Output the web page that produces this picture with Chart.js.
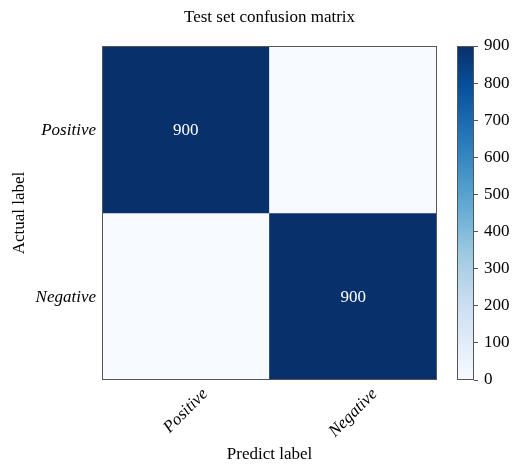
<!DOCTYPE html>
<html lang="en">
<head>
    <meta charset="UTF-8">
    <title>Test set confusion matrix</title>
    <script src="https://cdn.jsdelivr.net/npm/chart.js"></script>
    <style>
        body { margin: 0; background: #fff; }
        #wrap { position: relative; width: 515px; height: 464px; }
        #wrap canvas { position: absolute; left: 0; top: 0; }
    </style>
</head>
<body>
    <div id="wrap">
        <canvas id="matrix" width="515" height="464"></canvas>
        <canvas id="colorbar" width="515" height="464"></canvas>
    </div>

    <script>
        // data
        const categories = ['Positive', 'Negative'];
        const rowPositive = [900, 0];   // actual Positive -> predicted Positive / Negative
        const rowNegative = [0, 900];   // actual Negative -> predicted Positive / Negative
        const colorbarTicks = [0, 100, 200, 300, 400, 500, 600, 700, 800, 900];
        const vmax = 900;

        const matrix = [rowPositive, rowNegative];
        const FONT = "'Liberation Serif', 'DejaVu Serif', serif";

        // matplotlib "Blues"
        const blues = ['#f7fbff', '#deebf7', '#c6dbef', '#9ecae1', '#6baed6', '#4292c6', '#2171b5', '#08519c', '#08306b'];

        function hexToRgb(h) {
            return [parseInt(h.slice(1, 3), 16), parseInt(h.slice(3, 5), 16), parseInt(h.slice(5, 7), 16)];
        }
        function bluesAt(t) {
            t = Math.max(0, Math.min(1, t));
            const pos = t * (blues.length - 1);
            const i = Math.min(Math.floor(pos), blues.length - 2);
            const f = pos - i;
            const a = hexToRgb(blues[i]), b = hexToRgb(blues[i + 1]);
            const c = a.map((v, k) => Math.round(v + (b[k] - v) * f));
            return `rgb(${c[0]},${c[1]},${c[2]})`;
        }

        // one dataset per actual row, each cell spans [row, row + 1] on the y scale
        const datasets = matrix.map((row, r) => ({
            label: categories[r],
            data: row.map(() => [r, r + 1]),
            values: row,
            backgroundColor: row.map(v => bluesAt(v / vmax)),
            borderWidth: 0
        }));

        const matrixDecor = {
            id: 'matrixDecor',
            afterDatasetsDraw(chart) {
                const { ctx, chartArea: a, scales: { x, y } } = chart;
                ctx.save();

                // cell values
                ctx.font = `17px ${FONT}`;
                ctx.textAlign = 'center';
                ctx.textBaseline = 'middle';
                matrix.forEach((row, r) => {
                    row.forEach((v, c) => {
                        if (!v) return;
                        ctx.fillStyle = v / vmax > 0.5 ? '#ffffff' : '#000000';
                        ctx.fillText(String(v), x.getPixelForValue(c), y.getPixelForValue(r + 0.5) + 1);
                    });
                });

                // frame
                ctx.strokeStyle = '#555';
                ctx.lineWidth = 1;
                ctx.strokeRect(a.left + 0.5, a.top + 0.5, a.width - 1, a.height - 1);

                // y tick labels
                ctx.fillStyle = '#000';
                ctx.font = `italic 17px ${FONT}`;
                ctx.textAlign = 'right';
                categories.forEach((lab, r) => {
                    ctx.fillText(lab, a.left - 6, y.getPixelForValue(r + 0.5) + 1);
                });

                // x tick labels, rotated 45 degrees, centred on the tick
                categories.forEach((lab, c) => {
                    const w = ctx.measureText(lab).width, h = 13;
                    const s = Math.SQRT1_2;
                    const bboxH = (w + h) * s;
                    ctx.save();
                    ctx.translate(x.getPixelForValue(c), a.bottom + 7 + bboxH / 2);
                    ctx.rotate(-Math.PI / 4);
                    ctx.textAlign = 'center';
                    ctx.fillText(lab, 0, 0);
                    ctx.restore();
                });

                // axis titles and chart title
                ctx.font = `17px ${FONT}`;
                ctx.textAlign = 'center';
                ctx.fillText('Predict label', (a.left + a.right) / 2, 455);
                ctx.fillText('Test set confusion matrix', (a.left + a.right) / 2, 18);
                ctx.save();
                ctx.translate(20, (a.top + a.bottom) / 2);
                ctx.rotate(-Math.PI / 2);
                ctx.fillText('Actual label', 0, 0);
                ctx.restore();

                ctx.restore();
            }
        };

        new Chart(document.getElementById('matrix'), {
            type: 'bar',
            data: { labels: categories, datasets },
            options: {
                responsive: false,
                animation: false,
                layout: { padding: { left: 102, top: 46, right: 78, bottom: 84 } },
                datasets: { bar: { barPercentage: 1, categoryPercentage: 1, grouped: false } },
                scales: {
                    x: { display: false },
                    y: { display: false, min: 0, max: categories.length, reverse: true }
                },
                plugins: { legend: { display: false }, tooltip: { enabled: false } }
            },
            plugins: [matrixDecor]
        });

        // colorbar
        const colorbarFrame = {
            id: 'colorbarFrame',
            afterDatasetsDraw(chart) {
                const { ctx, chartArea: a } = chart;
                ctx.save();
                ctx.strokeStyle = '#555';
                ctx.lineWidth = 1;
                ctx.strokeRect(a.left + 0.5, a.top + 0.5, a.width - 1, a.height - 1);
                ctx.restore();
            }
        };

        new Chart(document.getElementById('colorbar'), {
            type: 'bar',
            data: {
                labels: ['count'],
                datasets: [{
                    data: [vmax],
                    borderWidth: 0,
                    barPercentage: 1,
                    categoryPercentage: 1,
                    backgroundColor(context) {
                        const { chart } = context;
                        const a = chart.chartArea;
                        if (!a) return blues[blues.length - 1];
                        const g = chart.ctx.createLinearGradient(0, a.bottom, 0, a.top);
                        blues.forEach((c, i) => g.addColorStop(i / (blues.length - 1), c));
                        return g;
                    }
                }]
            },
            options: {
                responsive: false,
                animation: false,
                layout: { padding: { left: 457, top: 46, right: 0, bottom: 84 } },
                scales: {
                    x: { display: false },
                    y: {
                        position: 'right',
                        min: 0,
                        max: vmax,
                        afterBuildTicks(scale) { scale.ticks = colorbarTicks.map(v => ({ value: v })); },
                        afterFit(scale) { scale.width = 41; },
                        grid: { drawOnChartArea: false, drawTicks: true, tickLength: 4, color: '#555' },
                        border: { display: false },
                        ticks: { color: '#000', padding: 6, font: { family: FONT, size: 17 } }
                    }
                },
                plugins: { legend: { display: false }, tooltip: { enabled: false } }
            },
            plugins: [colorbarFrame]
        });
    </script>
</body>
</html>
